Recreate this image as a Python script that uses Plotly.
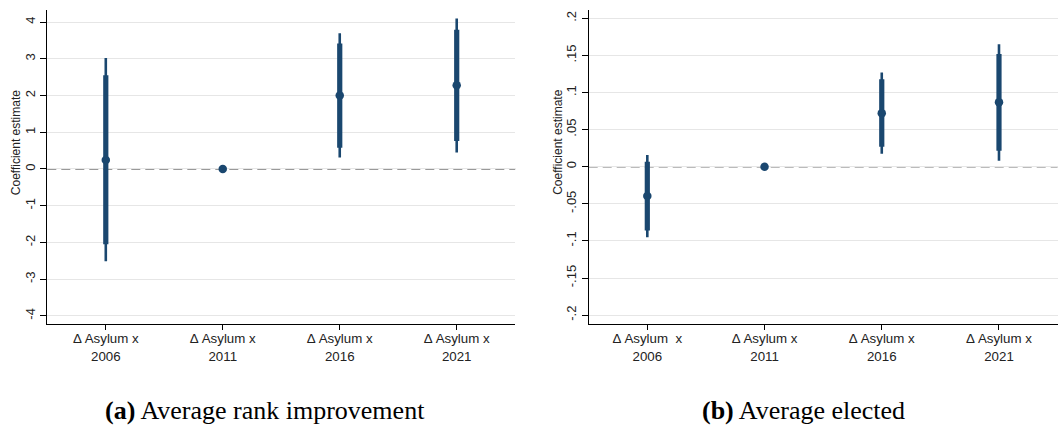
import plotly.graph_objects as go

# ---- data ----
categories = [1, 2, 3, 4]
cat_labels_a = ["Δ Asylum x<br>2006", "Δ Asylum x<br>2011", "Δ Asylum x<br>2016", "Δ Asylum x<br>2021"]
cat_labels_b = ["Δ Asylum\u00a0 x<br>2006", "Δ Asylum x<br>2011", "Δ Asylum x<br>2016", "Δ Asylum x<br>2021"]

rank_coef = [0.245, 0.0, 2.0, 2.28]
rank_lo95 = [-2.51, None, 0.31, 0.45]
rank_hi95 = [3.02, None, 3.70, 4.10]
rank_lo90 = [-2.05, None, 0.58, 0.76]
rank_hi90 = [2.55, None, 3.42, 3.79]

elect_coef = [-0.0395, 0.0, 0.072, 0.0868]
elect_lo95 = [-0.095, None, 0.0175, 0.008]
elect_hi95 = [0.0158, None, 0.127, 0.165]
elect_lo90 = [-0.086, None, 0.027, 0.0216]
elect_hi90 = [0.0067, None, 0.118, 0.152]

ticks_a = [-4, -3, -2, -1, 0, 1, 2, 3, 4]
ticktext_a = ["-4", "-3", "-2", "-1", "0", "1", "2", "3", "4"]
ticks_b = [-0.2, -0.15, -0.1, -0.05, 0, 0.05, 0.1, 0.15, 0.2]
ticktext_b = ["-.2", "-.15", "-.1", "-.05", "0", ".05", ".1", ".15", ".2"]

y_title = "Coefficient estimate"
captions = ["<b>(a)</b> Average rank improvement", "<b>(b)</b> Average elected"]

NAVY = "#1a476f"
FONT = "Liberation Sans, Arial, sans-serif"
W, H = 1059, 431


def seg(xs, lo, hi):
    X, Y = [], []
    for x, a, b in zip(xs, lo, hi):
        if a is None or b is None:
            continue
        X += [x, x, None]
        Y += [a, b, None]
    return X, Y


fig = go.Figure()

panels = [
    ("x", "y", rank_coef, rank_lo95, rank_hi95, rank_lo90, rank_hi90),
    ("x2", "y2", elect_coef, elect_lo95, elect_hi95, elect_lo90, elect_hi90),
]
for xa, ya, coef, lo95, hi95, lo90, hi90 in panels:
    fig.add_shape(type="line", xref=f"{xa} domain", yref=ya, x0=0, x1=1, y0=0, y1=0,
                  line=dict(color="#787878", width=1.6, dash="9px,5px"), layer="below")
    X, Y = seg(categories, lo95, hi95)
    fig.add_trace(go.Scatter(x=X, y=Y, xaxis=xa, yaxis=ya, mode="lines",
                             line=dict(color=NAVY, width=2.6), showlegend=False, hoverinfo="skip"))
    X, Y = seg(categories, lo90, hi90)
    fig.add_trace(go.Scatter(x=X, y=Y, xaxis=xa, yaxis=ya, mode="lines",
                             line=dict(color=NAVY, width=5.2), showlegend=False, hoverinfo="skip"))
    fig.add_trace(go.Scatter(x=categories, y=coef, xaxis=xa, yaxis=ya, mode="markers",
                             marker=dict(color=NAVY, size=8.5), showlegend=False))

common_x = dict(range=[0.5, 4.5], tickmode="array", tickvals=categories, automargin=False,
                showgrid=False, zeroline=False, showline=True, linecolor="black", linewidth=1.2,
                ticks="outside", ticklen=5, tickcolor="black", tickwidth=1, ticklabelstandoff=-3,
                tickfont=dict(family=FONT, size=13.3, color="#222"), fixedrange=True)
common_y = dict(tickmode="array", showgrid=True, gridcolor="#e6e6e6", gridwidth=1, automargin=False,
                zeroline=False, showline=True, linecolor="black", linewidth=1.2,
                ticks="outside", ticklen=6, tickcolor="black", tickwidth=1, tickangle=-90,
                tickfont=dict(family=FONT, size=13, color="#222"))

fig.update_layout(
    width=W, height=H,
    margin=dict(l=0, r=0, t=0, b=0),
    paper_bgcolor="white", plot_bgcolor="white",
    xaxis=dict(domain=[47.3 / W, 515.2 / W], ticktext=cat_labels_a, anchor="y", **common_x),
    yaxis=dict(domain=[1 - 324.3 / H, 1 - 10 / H], range=[-4.23, 4.33], tickvals=ticks_a, ticktext=ticktext_a,
               anchor="x", **common_y),
    xaxis2=dict(domain=[588.7 / W, 1057.6 / W], ticktext=cat_labels_b, anchor="y2", **common_x),
    yaxis2=dict(domain=[1 - 324.3 / H, 1 - 10 / H], range=[-0.2124, 0.2112], tickvals=ticks_b, ticktext=ticktext_b,
                anchor="x2", **common_y),
)

for tx in [16.7, 558.3]:
    fig.add_annotation(x=tx / W, y=1 - 142.5 / H, xref="paper", yref="paper", text=y_title,
                       textangle=-90, showarrow=False, xanchor="center", yanchor="middle",
                       font=dict(family=FONT, size=12, color="#222"))

for cx, txt in zip([265, 803], captions):
    fig.add_annotation(x=cx / W, y=1 - 410 / H, xref="paper", yref="paper",
                       text=txt, showarrow=False, xanchor="center", yanchor="middle",
                       font=dict(family="Liberation Serif, Times New Roman, serif", size=26, color="black"))

fig.write_html("out.html", config={"displayModeBar": False},
               post_script="document.body.style.margin='0';document.body.style.padding='0';")
